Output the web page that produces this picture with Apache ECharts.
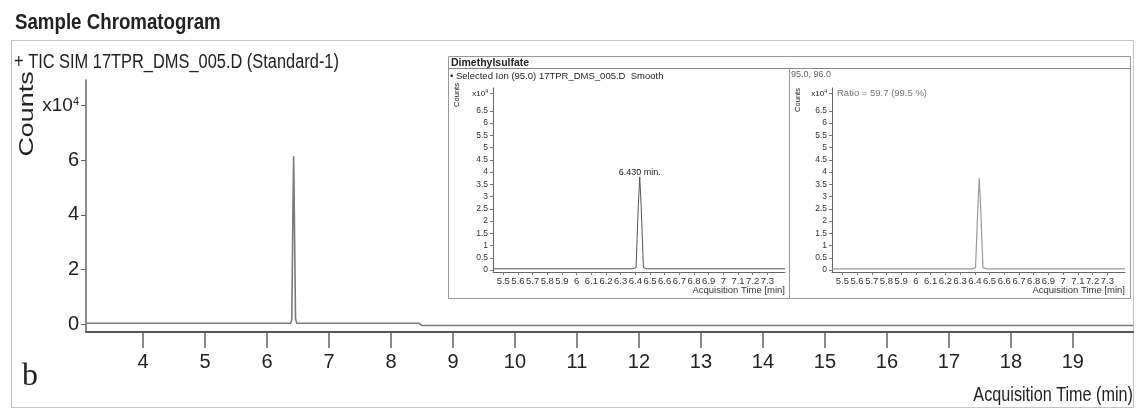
<!DOCTYPE html>
<html><head><meta charset="utf-8">
<script src="https://cdn.jsdelivr.net/npm/echarts@6/dist/echarts.min.js"></script>
<style>html,body{margin:0;padding:0;background:#fff}#c{width:1136px;height:411px}</style>
</head><body><div id="c"></div>
<script>
// ---------------- data (counts in units of 10^4) ----------------
const mainTime   = [3.08, 6.38, 6.40, 6.42, 6.43, 6.44, 6.46, 6.48, 8.45, 8.50, 19.97];
const mainCounts = [0.03, 0.03, 0.15, 4.6,  6.15, 4.2,  0.2,  0.03, 0.03, -0.05, -0.05];
const mainXTicks = [4, 5, 6, 7, 8, 9, 10, 11, 12, 13, 14, 15, 16, 17, 18, 19];
const mainYTicks = [0, 2, 4, 6];
const mainUnitTick = 8;

const insetTime    = [5.43, 6.38, 6.405, 6.42, 6.43, 6.44, 6.455, 6.48, 7.42];
const ion95Counts  = [0.05, 0.05, 0.1,   2.6,  3.8,  2.6,  0.1,   0.05, 0.05];
const qualCounts   = [0.05, 0.05, 0.1,   2.5,  3.75, 2.5,  0.1,   0.05, 0.05];
const insetXTicks  = [5.5, 5.6, 5.7, 5.8, 5.9, 6.0, 6.1, 6.2, 6.3, 6.4, 6.5, 6.6, 6.7, 6.8, 6.9, 7.0, 7.1, 7.2, 7.3];
const insetYTicks  = [0, 0.5, 1, 1.5, 2, 2.5, 3, 3.5, 4, 4.5, 5, 5.5, 6, 6.5];
const insetUnitTick = 7.2;

const titleText   = 'Sample Chromatogram';
const traceText   = '+ TIC SIM 17TPR_DMS_005.D (Standard-1)';
const compound    = 'Dimethylsulfate';
const ionText     = '\u2022 Selected Ion (95.0) 17TPR_DMS_005.D  Smooth';
const qualIons    = '95.0, 96.0';
const ratioText   = 'Ratio = 59.7 (99.5 %)';

// ---------------- chart ----------------
const SANS = "'Liberation Sans',Arial,sans-serif";
const pairs = (xs, ys) => xs.map((x, i) => [x, ys[i]]);
const fmt1 = v => String(Math.round(v * 10) / 10);
const peakIdx = ion95Counts.indexOf(Math.max(...ion95Counts));

const chart = echarts.init(document.getElementById('c'));

const unitRich = (fs, ss, raise) => ({
  a: {fontSize: fs, fontFamily: SANS, color: '#222'},
  s: {fontSize: ss, fontFamily: SANS, color: '#222', padding: [0, 0, raise, 0]}
});

function insetX(gi) {
  return {
    type: 'value', gridIndex: gi, min: 5.43, max: 7.42,
    axisLine: {show: true, onZero: false, lineStyle: {color: '#666', width: 1}},
    axisTick: {show: true, customValues: insetXTicks, length: 3, lineStyle: {color: '#777'}},
    axisLabel: {customValues: insetXTicks, formatter: fmt1, fontSize: 9.5, fontFamily: SANS, color: '#333', margin: 4},
    splitLine: {show: false}
  };
}
function insetY(gi) {
  return {
    type: 'value', gridIndex: gi, min: -0.08, max: 7.43,
    axisLine: {show: true, lineStyle: {color: '#666', width: 1}},
    axisTick: {show: true, customValues: insetYTicks.concat([insetUnitTick]), length: 3, lineStyle: {color: '#777'}},
    axisLabel: {
      customValues: insetYTicks.concat([insetUnitTick]),
      formatter: v => v === insetUnitTick ? '{a|x10}{s|4}' : fmt1(v),
      rich: unitRich(8, 5, 4),
      fontSize: 8.5, fontFamily: SANS, color: '#333', margin: 5
    },
    splitLine: {show: false}
  };
}

const vm = {textVerticalAlign: 'middle', verticalAlign: 'middle'};
function txt(text, x, y, font, fill, opts) {
  opts = opts || {};
  return Object.assign({
    type: 'text', x: x, y: y,
    style: Object.assign({text: text, x: 0, y: 0, font: font, fill: fill,
      textAlign: opts.align || 'left', align: opts.align || 'left'}, vm)
  }, opts.el || {});
}

const option = {
  animation: false,
  backgroundColor: '#fff',
  grid: [
    {left: 86, right: 3, top: 80, height: 252, containLabel: false, outerBoundsMode: 'none'},
    {left: 493, right: 351, top: 88, height: 184, containLabel: false, outerBoundsMode: 'none'},
    {left: 832, right: 11, top: 88, height: 184, containLabel: false, outerBoundsMode: 'none'}
  ],
  xAxis: [
    {
      type: 'value', gridIndex: 0, min: 3.08, max: 19.97,
      axisLine: {show: true, onZero: false, lineStyle: {color: '#555', width: 2}},
      axisTick: {show: true, customValues: mainXTicks, length: 16, lineStyle: {color: '#666', width: 1.5}},
      axisLabel: {customValues: mainXTicks, fontSize: 20, fontFamily: SANS, color: '#222', margin: 20},
      splitLine: {show: false}
    },
    insetX(1), insetX(2)
  ],
  yAxis: [
    {
      type: 'value', gridIndex: 0, min: -0.29, max: 8.94,
      axisLine: {show: true, lineStyle: {color: '#666', width: 1.5}},
      axisTick: {show: true, customValues: mainYTicks.concat([mainUnitTick]), length: 5, lineStyle: {color: '#666'}},
      axisLabel: {
        customValues: mainYTicks.concat([mainUnitTick]),
        formatter: v => v === mainUnitTick ? '{a|x10}{s|4}' : String(v),
        rich: unitRich(19, 11, 8),
        fontSize: 20, fontFamily: SANS, color: '#222', margin: 7
      },
      splitLine: {show: false}
    },
    insetY(1), insetY(2)
  ],
  series: [
    {
      type: 'line', xAxisIndex: 0, yAxisIndex: 0, data: pairs(mainTime, mainCounts),
      symbol: 'none', lineStyle: {color: '#7a7a7a', width: 1.6}, z: 3
    },
    {
      type: 'line', xAxisIndex: 1, yAxisIndex: 1, data: pairs(insetTime, ion95Counts),
      symbol: 'none', lineStyle: {color: '#555', width: 1}, z: 3,
      markPoint: {
        symbol: 'circle', symbolSize: 0,
        data: [{coord: [insetTime[peakIdx], ion95Counts[peakIdx]]}],
        label: {show: true, position: 'top', distance: 0, formatter: insetTime[peakIdx].toFixed(3) + ' min.',
                fontSize: 9, fontFamily: SANS, color: '#222'}
      }
    },
    {
      type: 'line', xAxisIndex: 2, yAxisIndex: 2, data: pairs(insetTime, qualCounts),
      symbol: 'none', lineStyle: {color: '#9a9a9a', width: 1.2}, z: 3
    }
  ],
  graphic: [
    // main panel frame
    {type: 'rect', shape: {x: 11.5, y: 40.5, width: 1122, height: 367}, style: {fill: 'none', stroke: '#c4c4c4', lineWidth: 1}},
    txt(titleText, 15, 23, "bold 22px 'Liberation Sans',sans-serif", '#222', {el: {scaleX: 0.85}}),
    txt(traceText, 14, 62, "20px 'Liberation Sans',sans-serif", '#222', {el: {scaleX: 0.82}}),
    txt('Counts', 27, 114, "21px 'Liberation Sans',sans-serif", '#222', {align: 'center', el: {rotation: Math.PI / 2, scaleX: 1.28}}),
    txt('b', 30, 377, "32px 'Liberation Serif','DejaVu Serif',serif", '#222', {align: 'center'}),
    txt('Acquisition Time (min)', 1133, 395, "20px 'Liberation Sans',sans-serif", '#222', {align: 'right', el: {scaleX: 0.81}}),
    // inset frame
    {type: 'rect', shape: {x: 448.5, y: 56.5, width: 682, height: 242}, style: {fill: 'none', stroke: '#999', lineWidth: 1}},
    {type: 'line', shape: {x1: 448, y1: 68.5, x2: 1131, y2: 68.5}, style: {stroke: '#888', lineWidth: 1.2}},
    {type: 'line', shape: {x1: 789.5, y1: 68, x2: 789.5, y2: 299}, style: {stroke: '#999', lineWidth: 1}},
    txt(compound, 451, 63, "bold 10.5px 'Liberation Sans',sans-serif", '#222'),
    txt(ionText, 450, 76, "9.5px 'Liberation Sans',sans-serif", '#222'),
    txt('Counts', 457, 95, "7.5px 'Liberation Sans',sans-serif", '#222', {align: 'center', el: {rotation: Math.PI / 2}}),
    txt('Acquisition Time [min]', 785, 290, "9.5px 'Liberation Sans',sans-serif", '#333', {align: 'right'}),
    txt(qualIons, 791, 75, "9px 'Liberation Sans',sans-serif", '#666'),
    txt(ratioText, 837, 93, "9.5px 'Liberation Sans',sans-serif", '#777'),
    txt('Counts', 798, 100, "7.5px 'Liberation Sans',sans-serif", '#222', {align: 'center', el: {rotation: Math.PI / 2}}),
    txt('Acquisition Time [min]', 1125, 290, "9.5px 'Liberation Sans',sans-serif", '#333', {align: 'right'})
  ]
};
chart.setOption(option);
</script>
</body></html>
